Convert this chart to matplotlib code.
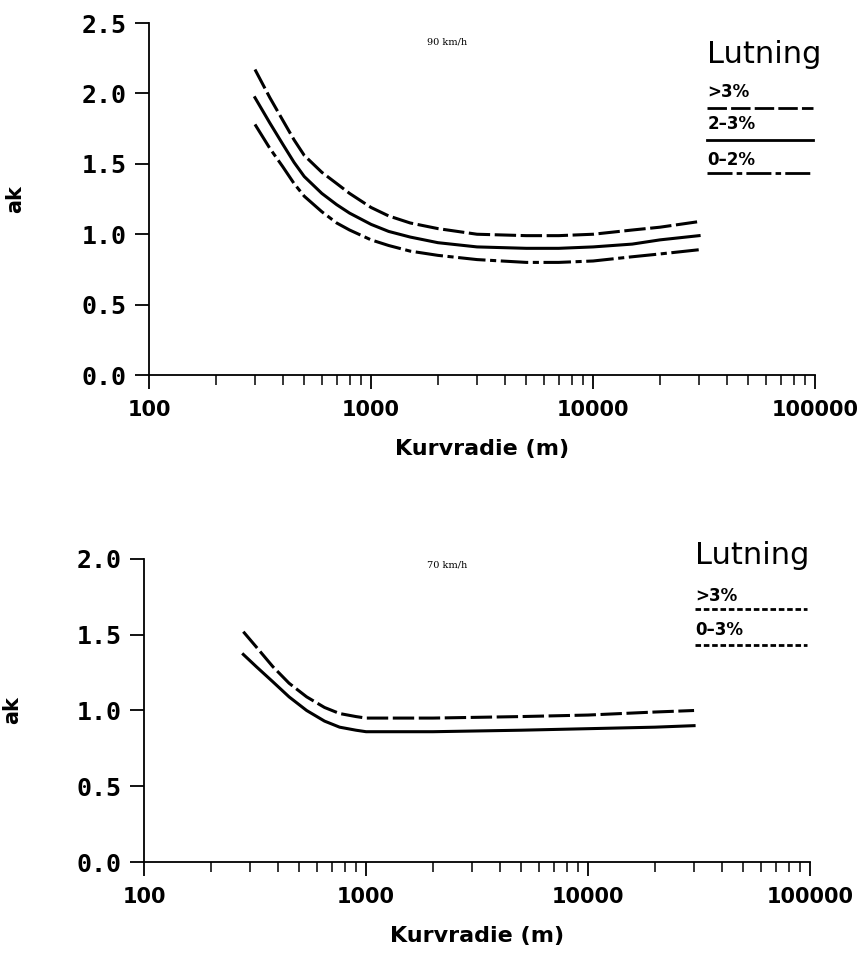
"""Curve radius vs. ak factor for 90 and 70 km/h, by gradient class."""

import matplotlib
matplotlib.use("Agg")
import matplotlib.pyplot as plt
from matplotlib.ticker import LogLocator, FixedLocator, FixedFormatter, NullFormatter

# 90 km/h panel
r90 = [300, 350, 400, 450, 500, 600, 700, 800, 1000, 1200, 1500, 2000,
       3000, 5000, 7000, 10000, 15000, 20000, 30000]
ak90_gt3 = [2.17, 1.97, 1.81, 1.67, 1.56, 1.44, 1.36, 1.29, 1.19, 1.13, 1.08, 1.04,
            1.00, 0.99, 0.99, 1.00, 1.03, 1.05, 1.09]
ak90_2_3 = [1.97, 1.79, 1.64, 1.51, 1.41, 1.29, 1.21, 1.15, 1.07, 1.02, 0.98, 0.94,
            0.91, 0.90, 0.90, 0.91, 0.93, 0.96, 0.99]
ak90_0_2 = [1.78, 1.61, 1.48, 1.36, 1.27, 1.16, 1.08, 1.03, 0.96, 0.92, 0.88, 0.85,
            0.82, 0.80, 0.80, 0.81, 0.84, 0.86, 0.89]

# 70 km/h panel
r70 = [280, 320, 380, 450, 540, 650, 760, 900, 1000, 1500, 2000,
       5000, 10000, 20000, 30000]
ak70_gt3 = [1.52, 1.42, 1.29, 1.18, 1.09, 1.02, 0.98, 0.96, 0.95, 0.95, 0.95,
            0.96, 0.97, 0.99, 1.00]
ak70_0_3 = [1.37, 1.29, 1.19, 1.09, 1.00, 0.93, 0.89, 0.87, 0.86, 0.86, 0.86,
            0.87, 0.88, 0.89, 0.90]

xticks = [100, 1000, 10000, 100000]
xtick_labels = ["100", "1000", "10000", "100000"]

LW = 2.2
DASH = (0, (7, 1.5))
DASHDOT = (0, (9, 1.5, 2, 1.5))


def style_axes(ax, ymax, ylab_x):
    ax.set_xscale("log")
    ax.set_xlim(100, 100000)
    ax.set_ylim(0, ymax)
    ax.spines["top"].set_visible(False)
    ax.spines["right"].set_visible(False)
    for s in ("left", "bottom"):
        ax.spines[s].set_linewidth(1.3)
    ax.xaxis.set_major_locator(FixedLocator(xticks))
    ax.xaxis.set_major_formatter(FixedFormatter(xtick_labels))
    ax.xaxis.set_minor_locator(LogLocator(base=10, subs=range(2, 10)))
    ax.xaxis.set_minor_formatter(NullFormatter())
    n = int(round(ymax / 0.5)) + 1
    ax.set_yticks([i * 0.5 for i in range(n)])
    ax.set_yticklabels([f"{i * 0.5:.1f}" for i in range(n)],
                       family="DejaVu Sans Mono", fontweight="bold", fontsize=18)
    for lbl in ax.get_xticklabels():
        lbl.set_fontweight("bold")
        lbl.set_fontsize(15)
    ax.tick_params(axis="x", which="major", direction="out", length=10, width=1.3, pad=8)
    ax.tick_params(axis="x", which="minor", direction="out", length=7, width=1.1)
    ax.tick_params(axis="y", which="major", direction="out", length=10, width=1.3, pad=6)
    ax.set_xlabel("Kurvradie (m)", fontsize=16, fontweight="bold", labelpad=14)
    ax.set_ylabel("ak", fontsize=15, fontweight="bold")
    ax.yaxis.set_label_coords(ylab_x, 0.5)


def legend_block(ax, x0, x1, ytitle, entries):
    tr = ax.transAxes
    ax.text(x0, ytitle, "Lutning", transform=tr, fontsize=22, va="center", ha="left")
    for label, ytxt, yline, ls in entries:
        ax.text(x0, ytxt, label, transform=tr, fontsize=12, fontweight="bold",
                va="center", ha="left")
        ax.plot([x0, x1], [yline, yline], transform=tr, color="black", lw=2,
                linestyle=ls, clip_on=False)


fig = plt.figure(figsize=(8.64, 9.56), dpi=100)

ax1 = fig.add_axes([0.1725, 0.6077, 0.771, 0.3682])
ax1.plot(r90, ak90_gt3, color="black", lw=LW, linestyle=DASH)
ax1.plot(r90, ak90_2_3, color="black", lw=LW, linestyle="-")
ax1.plot(r90, ak90_0_2, color="black", lw=LW, linestyle=DASHDOT)
style_axes(ax1, 2.5, -0.186)
ax1.text(0.447, 0.946, "90 km/h", transform=ax1.transAxes, fontsize=7,
         family="DejaVu Serif", ha="center", va="center")
legend_block(ax1, 0.838, 0.997, 0.912, [
    (">3%", 0.804, 0.759, DASH),
    ("2\u20133%", 0.713, 0.668, "-"),
    ("0\u20132%", 0.611, 0.574, DASHDOT),
])

ax2 = fig.add_axes([0.1667, 0.0983, 0.771, 0.317])
ax2.plot(r70, ak70_gt3, color="black", lw=LW, linestyle=DASH)
ax2.plot(r70, ak70_0_3, color="black", lw=LW, linestyle="-")
style_axes(ax2, 2.0, -0.183)
ax2.text(0.455, 0.98, "70 km/h", transform=ax2.transAxes, fontsize=7,
         family="DejaVu Serif", ha="center", va="center")
legend_block(ax2, 0.827, 0.995, 1.01, [
    (">3%", 0.878, 0.835, (0, (2, 1))),
    ("0\u20133%", 0.766, 0.716, (0, (2, 1))),
])

fig.savefig("out.png", dpi=100)
